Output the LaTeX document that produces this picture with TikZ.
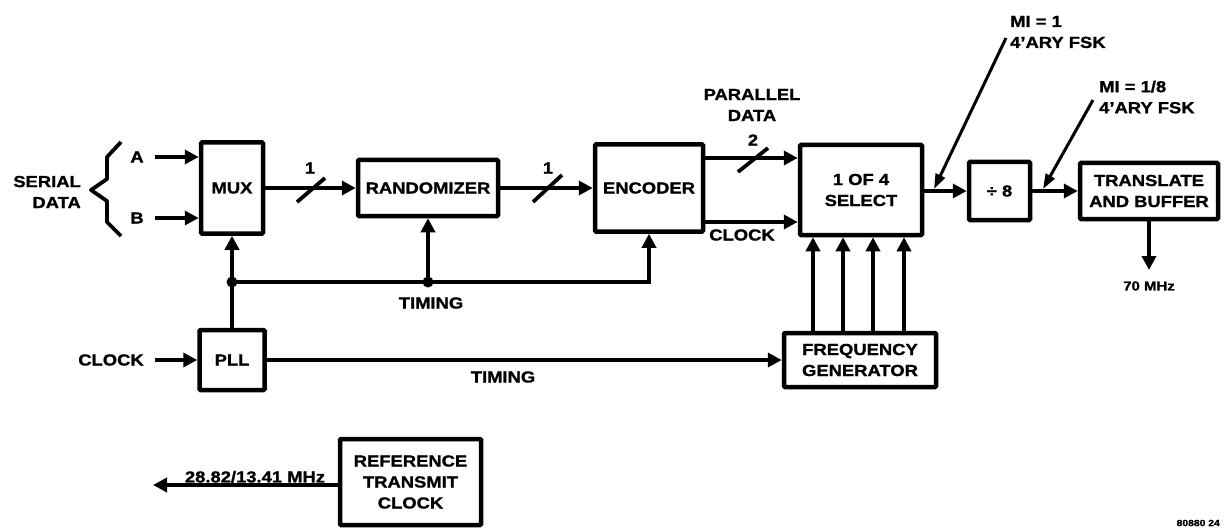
\documentclass[tikz,border=0pt]{standalone}
\usepackage{fontspec}
\setmainfont{Liberation Sans}[FakeStretch=1.15, BoldFeatures={FakeBold=1.2}]
\usetikzlibrary{arrows.meta,calc}
\newcommand\fs{\fontsize{16}{21}\selectfont\bfseries}
\newcommand\fsm{\fontsize{13}{16}\selectfont\bfseries}
\newcommand\fst{\fontsize{9}{11}\selectfont\bfseries}
\tikzset{
  box/.style={draw, line width=4.5pt, inner sep=0pt, align=center, font=\fs, rounded corners=1pt},
  arr/.style={line width=3.8pt, -{Triangle[length=14pt,width=14pt]}},
  leader/.style={line width=3pt, -{Triangle[length=15pt,width=10pt]}},
  ln/.style={line width=3.8pt},
  lbl/.style={font=\fs, inner sep=0pt, align=center},
  dotj/.style={circle, fill, inner sep=0pt, minimum size=11pt},
}
\begin{document}
\begin{tikzpicture}[x=1pt,y=-1pt]
\useasboundingbox (0,0) rectangle (1224,532);

% boxes
\node[box, minimum width=62, minimum height=91] (mux) at (232,188) {MUX};
\node[box, minimum width=140, minimum height=56] (rand) at (428,188) {RANDOMIZER};
\node[box, minimum width=108, minimum height=87] (enc) at (649,188) {ENCODER};
\node[box, minimum width=122, minimum height=90] (sel) at (861,190) {1 OF 4\\SELECT};
\node[box, minimum width=61, minimum height=58] (div) at (999.5,191) {÷ 8};
\node[box, minimum width=138, minimum height=56] (tab) at (1149,191) {TRANSLATE\\AND BUFFER};
\node[box, minimum width=152, minimum height=54] (fg) at (860,360) {FREQUENCY\\GENERATOR};
\node[box, minimum width=65, minimum height=60] (pll) at (232,360) {PLL};
\node[box, minimum width=141, minimum height=86] (ref) at (410.5,482) {REFERENCE\\TRANSMIT\\CLOCK};

% coordinates
\coordinate (ina) at (155,157);
\coordinate (inb) at (155,218);
\coordinate (clkin) at (155,360);
\coordinate (pdy) at (0,158);
\coordinate (cky) at (0,222);
\coordinate (j1) at (232,282);
\coordinate (j2) at (428,282);
\coordinate (o70) at (1149,270);
\coordinate (refout) at (153,485);
\coordinate (l1s) at (1006,38);
\coordinate (l1t) at (934,189);
\coordinate (l2s) at (1093,100);
\coordinate (l2t) at (1043,189);

% serial data inputs
\draw[ln, line join=round] (121,142) -- (107,157) -- (107,179) -- (91,190) -- (107,201) -- (107,222) -- (121,236);
\node[lbl, align=right, anchor=east] (serial) at (81,192) {SERIAL\\DATA};
\node[lbl] (la) at (137,157) {A};
\node[lbl] (lb) at (137,218) {B};
\draw[arr] (ina) -- (ina -| mux.west);
\draw[arr] (inb) -- (inb -| mux.west);

% main chain
\draw[arr] (mux.east) -- (rand.west);
\draw[ln] (297,202) -- (325,178);
\node[lbl] (n1a) at (310,168) {1};
\draw[arr] (rand.east) -- (enc.west);
\draw[ln] (533,202) -- (562,175);
\node[lbl] (n1b) at (548,168) {1};

\draw[arr] (enc.east |- pdy) -- (sel.west |- pdy);
\draw[ln] (738,172) -- (768,148);
\node[lbl] (n2) at (753,140) {2};
\node[lbl] (pdata) at (752,105) {PARALLEL\\DATA};
\draw[arr] (enc.east |- cky) -- (sel.west |- cky);
\node[lbl] (lclk) at (742,235) {CLOCK};

\draw[arr] (sel.east |- div.west) -- (div.west);
\draw[arr] (div.east) -- (div.east -| tab.west);
\draw[arr] (tab.south) -- (o70);
\node[lbl, font=\fsm] (l70) at (1149,286) {70 MHz};

% leaders
\node[lbl, align=left, anchor=west] (mi1) at (1010,32) {MI = 1\\4'ARY FSK};
\node[lbl, align=left, anchor=west] (mi8) at (1099,97) {MI = 1/8\\4'ARY FSK};
\draw[leader] (l1s) -- (l1t);
\draw[leader] (l2s) -- (l2t);

% timing
\draw[arr] (pll.north) -- (mux.south);
\draw[arr] (j1) -| (enc.south);
\draw[arr] (j2) -- (rand.south);
\node[dotj] (d1) at (j1) {};
\node[dotj] (d2) at (j2) {};
\node[lbl] (tim1) at (431,303) {TIMING};

\node[lbl] (lclock) at (111,360) {CLOCK};
\draw[arr] (clkin) -- (pll.west);
\draw[arr] (pll.east) -- (fg.west);
\node[lbl] (tim2) at (503,377) {TIMING};

\foreach \xx in {813,843,873,904}
  \draw[arr] (fg.north -| {(\xx,0)}) -- (sel.south -| {(\xx,0)});

% reference clock
\draw[arr] (ref.west |- refout) -- (refout);
\node[lbl, anchor=south] (lref) at (255,483) {28.82/13.41 MHz};

\node[lbl, font=\fst, anchor=east] (fig) at (1220,523) {80880 24};
\end{tikzpicture}
\end{document}
